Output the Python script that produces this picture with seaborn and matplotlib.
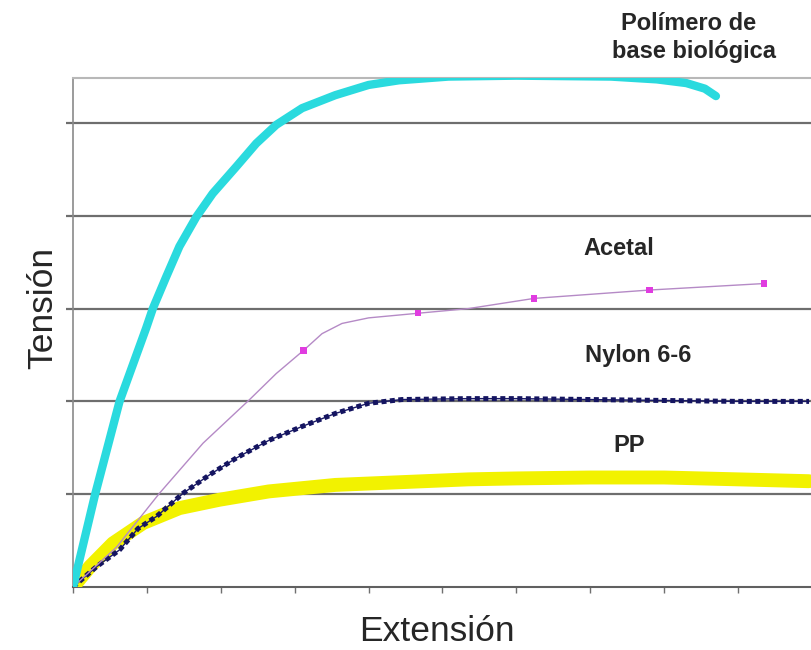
import matplotlib
matplotlib.use("Agg")
import matplotlib.pyplot as plt
import numpy as np
import pandas as pd
import seaborn as sns

# values (x in tick units, y in gridline units)
bio_x = [0, 0.15, 0.30, 0.63, 0.99, 1.08, 1.26, 1.44, 1.67, 1.89, 2.21, 2.48, 2.75, 3.10, 3.55, 4.00, 4.41,
         5.08, 6.0, 7.28, 7.9, 8.3, 8.55, 8.7]
bio_y = [0, 0.5, 1.0, 2.0, 2.79, 3.0, 3.34, 3.67, 3.99, 4.24, 4.53, 4.78, 4.98, 5.16, 5.30, 5.41, 5.46,
         5.5, 5.51, 5.5, 5.47, 5.43, 5.37, 5.29]

acetal_x = [0, 0.59, 1.17, 1.76, 2.39, 2.75, 3.12, 3.37, 3.64, 4.0, 4.67, 5.35, 6.24, 7.80, 9.35]
acetal_y = [0, 0.43, 1.01, 1.55, 2.02, 2.30, 2.55, 2.73, 2.84, 2.90, 2.95, 3.0, 3.11, 3.20, 3.27]
acetal_mx = [3.12, 4.67, 6.24, 7.80, 9.35]
acetal_my = [2.55, 2.95, 3.11, 3.20, 3.27]

nylon_x = [0, 0.32, 0.63, 0.88, 1.13, 1.49, 1.85, 2.21, 2.65, 3.10, 3.55, 4.0, 4.45, 5.35, 6.0, 7.0, 8.0, 9.0, 9.96]
nylon_y = [0, 0.22, 0.40, 0.63, 0.76, 1.01, 1.21, 1.39, 1.58, 1.73, 1.87, 1.98, 2.02, 2.03, 2.03, 2.02, 2.01, 2.0, 2.0]

pp_x = [0, 0.23, 0.54, 0.95, 1.44, 1.98, 2.65, 3.55, 4.45, 5.35, 6.0, 7.0, 8.0, 9.0, 9.96]
pp_y = [0, 0.22, 0.47, 0.69, 0.85, 0.94, 1.03, 1.10, 1.13, 1.16, 1.17, 1.18, 1.18, 1.16, 1.14]

x_ticks = list(range(0, 11))
y_grid = [1, 2, 3, 4, 5]

sns.set_style("white")
plt.rcParams['font.family'] = ['Liberation Sans', 'DejaVu Sans']

fig = plt.figure(figsize=(8.12, 6.5), dpi=100)
ax = fig.add_axes([73 / 812, 63 / 650, 1 - 73 / 812, 509 / 650])
ax.set_xlim(0, 739 / 74.2)
ax.set_ylim(0, 509 / 92.8)

for g in y_grid:
    ax.axhline(g, color="#6e6e6e", lw=1.6, zorder=1)

sns.lineplot(x=pp_x, y=pp_y, sort=False, estimator=None, ax=ax,
             color="#f2f200", linewidth=10, solid_capstyle="round", zorder=3)
sns.lineplot(x=nylon_x, y=nylon_y, sort=False, estimator=None, ax=ax,
             color="#1a1a66", linewidth=1.0, zorder=4)
sns.lineplot(x=nylon_x, y=nylon_y, sort=False, estimator=None, ax=ax,
             color="#141460", linewidth=3.6, linestyle=(0, (1.0, 0.7)), zorder=4)
sns.lineplot(x=acetal_x, y=acetal_y, sort=False, estimator=None, ax=ax,
             color="#b58ac6", linewidth=1.0, zorder=5)
sns.scatterplot(x=acetal_mx, y=acetal_my, ax=ax, marker="s", s=22,
                color="#e03ce0", edgecolor="none", zorder=6)
sns.lineplot(x=bio_x, y=bio_y, sort=False, estimator=None, ax=ax,
             color="#2adade", linewidth=6, solid_capstyle="round", zorder=5)

ax.spines["right"].set_visible(False)
ax.spines["top"].set_color("#b8b8b8")
ax.spines["top"].set_linewidth(1.5)
ax.spines["left"].set_color("#8a8a8a")
ax.spines["left"].set_linewidth(1.2)
ax.spines["bottom"].set_color("#606060")
ax.spines["bottom"].set_linewidth(1.5)

ax.set_xticks(x_ticks)
ax.set_yticks(y_grid)
ax.set_xticklabels([])
ax.set_yticklabels([])
ax.tick_params(axis="x", direction="out", length=4, width=1, color="#707070", bottom=True)
ax.tick_params(axis="y", direction="out", length=5, width=1.6, color="#6e6e6e", left=True)

fig.text(437 / 812, 1 - 641 / 650, "Extensión", fontsize=25.5, ha="center", va="baseline")
fig.text(43 / 812, 1 - 308 / 650, "Tensión", fontsize=25.5, rotation=90, ha="center", va="center")

lab = dict(fontsize=17, fontweight="bold", ha="center", va="baseline", transform=ax.transData)
ax.text((691 - 73) / 74.2, (587 - 30) / 92.8, "Polímero de", clip_on=False, **lab)
ax.text((697 - 73) / 74.2, (587 - 58) / 92.8, "base biológica", clip_on=False, **lab)
ax.text((621 - 73) / 74.2, (587 - 255) / 92.8, "Acetal", **lab)
ax.text((640 - 73) / 74.2, (587 - 362) / 92.8, "Nylon 6-6", **lab)
ax.text((631 - 73) / 74.2, (587 - 452) / 92.8, "PP", **lab)

fig.savefig("out.png", dpi=100)
